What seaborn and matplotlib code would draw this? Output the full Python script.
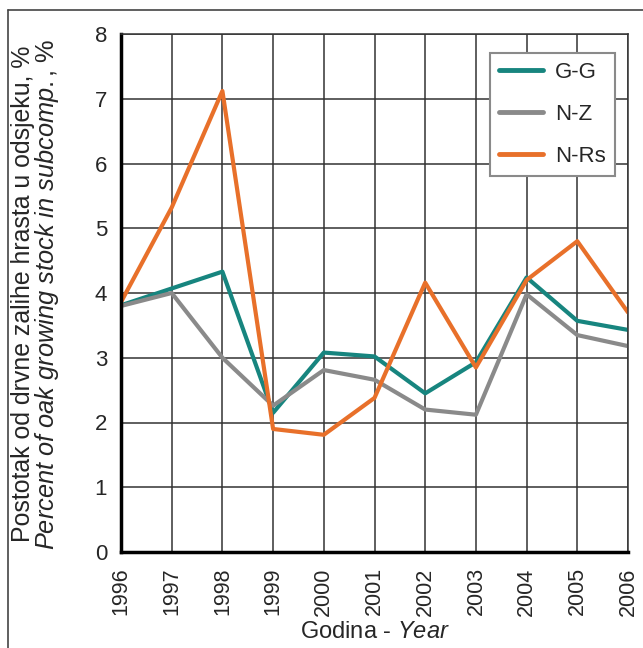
import pandas as pd
import numpy as np
import matplotlib.pyplot as plt
import seaborn as sns
from matplotlib.lines import Line2D

# %%
# Podaci ocitani s grafikona
godine = [1996, 1997, 1998, 1999, 2000, 2001, 2002, 2003, 2004, 2005, 2006]
gg = [3.81, 4.07, 4.33, 2.15, 3.08, 3.02, 2.45, 2.93, 4.24, 3.57, 3.43]
nz = [3.80, 4.00, 3.00, 2.26, 2.81, 2.66, 2.20, 2.12, 3.98, 3.35, 3.18]
nrs = [3.86, 5.32, 7.12, 1.90, 1.81, 2.38, 4.16, 2.85, 4.20, 4.80, 3.70]
serije = ['G-G', 'N-Z', 'N-Rs']
boje = ['#17857f', '#8a8a8a', '#e8702a']

df = pd.DataFrame({
    'Godina': godine * 3,
    'Postotak': gg + nz + nrs,
    'Serija': np.repeat(serije, len(godine)),
})

# %%
sns.set_style('white')
font = 'Liberation Sans'
plt.rcParams['font.family'] = [font, 'DejaVu Sans']
plt.rcParams['mathtext.fontset'] = 'custom'
plt.rcParams['mathtext.rm'] = font
plt.rcParams['mathtext.it'] = font + ':italic'

fig = plt.figure(figsize=(6.43, 6.48), dpi=100)
ax = fig.add_axes([121 / 643, 1 - 552 / 648, 507 / 643, 518 / 648])

sns.lineplot(data=df, x='Godina', y='Postotak', hue='Serija',
             palette=dict(zip(serije, boje)), linewidth=3, ax=ax, legend=False)

ax.set_xlim(1996, 2006)
ax.set_ylim(0, 8)
ax.set_xticks(godine)
ax.set_xticklabels([str(g) for g in godine], rotation=90, fontsize=15.5)
ax.set_yticks(range(0, 9))
ax.set_yticklabels([str(i) for i in range(0, 9)], fontsize=16)
ax.tick_params(direction='in', length=5, width=1.5, color='black')
ax.tick_params(axis='y', pad=10)
ax.tick_params(axis='x', pad=11)
ax.grid(True, color='#333333', linewidth=1.1)
ax.set_axisbelow(True)
for s in ['top', 'right']:
    ax.spines[s].set_color('#333333')
    ax.spines[s].set_linewidth(1.1)
for s in ['left', 'bottom']:
    ax.spines[s].set_color('black')
    ax.spines[s].set_linewidth(2.5)

ax.set_xlabel(r'Godina - $\mathit{Year}$', fontsize=17, labelpad=4)
ax.set_ylabel('')

# dvoredni naslov y osi
fig.text(23 / 643, 1 - 294 / 648, 'Postotak od drvne zalihe hrasta u odsjeku, %',
         rotation=90, ha='center', va='center', fontsize=17.9)
fig.text(47 / 643, 1 - 294 / 648,
         r'$\mathit{Percent\ of\ oak\ growing\ stock\ in\ subcomp.}$, %',
         rotation=90, ha='center', va='center', fontsize=18.3)

# legenda
handles = [Line2D([0], [0], color=c, linewidth=3.5) for c in boje]
leg = ax.legend(handles, serije, loc='upper right', bbox_to_anchor=(0.974, 0.963),
                fontsize=16, frameon=True, fancybox=False, framealpha=1,
                edgecolor='#8a8a8a', handlelength=2.0, labelspacing=0.95,
                borderpad=0.4, handletextpad=0.55, borderaxespad=0)
leg.get_frame().set_linewidth(1.5)

# okvir slike
fig.add_artist(Line2D([8 / 643, 8 / 643], [0, 1 - 10 / 648], color='#444444',
                      linewidth=1.2, transform=fig.transFigure))
fig.add_artist(Line2D([8 / 643, 1], [1 - 10 / 648, 1 - 10 / 648], color='#444444',
                      linewidth=1.2, transform=fig.transFigure))

fig.savefig('out.png', dpi=100)
